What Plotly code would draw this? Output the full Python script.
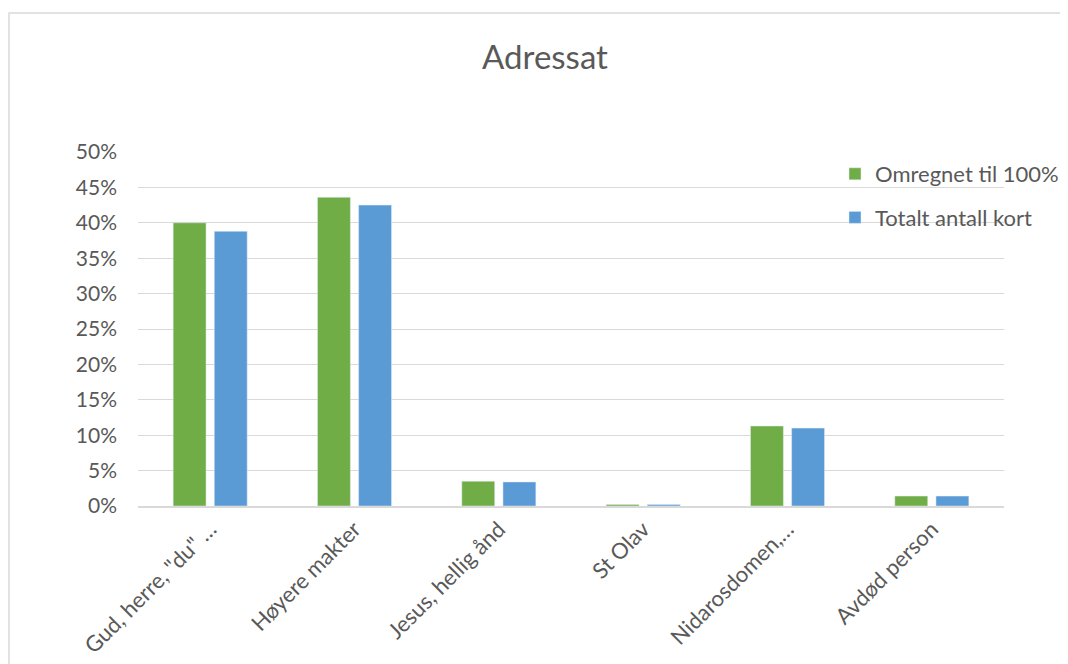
import plotly.graph_objects as go

categories = ['Gud, herre, "du" …', "Høyere makter", "Jesus, hellig ånd", "St Olav", "Nidarosdomen,…", "Avdød person"]
omregnet = [0.400, 0.436, 0.035, 0.002, 0.113, 0.014]
totalt = [0.388, 0.425, 0.034, 0.002, 0.110, 0.014]
series_names = ["Omregnet til 100%", "Totalt antall kort"]
tick_vals = [0, 0.05, 0.10, 0.15, 0.20, 0.25, 0.30, 0.35, 0.40, 0.45, 0.50]
tick_text = ["0%", "5%", "10%", "15%", "20%", "25%", "30%", "35%", "40%", "45%", "50%"]

# page body has an 8px margin, so the figure is drawn at (8, 8)
OFF = 8
W, H = 1068 - OFF, 664 - OFF
L, R, T = 138 - OFF, 64, 152 - OFF
B = H - (506 - OFF)
FONT = "Lato, Calibri, Carlito, sans-serif"
GREY = "#595959"

fig = go.Figure()
fig.add_trace(go.Bar(x=categories, y=omregnet, name=series_names[0], marker_color="#70AD47",
                     legendgroup="a"))
fig.add_trace(go.Bar(x=categories, y=totalt, name=series_names[1], marker_color="#5B9BD5",
                     legendgroup="b"))

pw = W - L - R
ph = H - T - B

def px_x(sx):
    return (sx - OFF - L) / pw

def px_y(sy):
    return (H - B - (sy - OFF)) / ph

fig.update_layout(
    width=W, height=H,
    margin=dict(l=L, r=R, t=T, b=B, autoexpand=False),
    paper_bgcolor="white", plot_bgcolor="white",
    barmode="group", bargap=0.43, bargroupgap=0.2,
    title=dict(text="Adressat", x=(545 - OFF) / W, xanchor="center",
               y=1 - (57 - OFF) / H, yanchor="middle",
               font=dict(family=FONT, size=33, color=GREY)),
    font=dict(family=FONT, size=20, color=GREY),
    legend=dict(x=px_x(835), y=px_y(153), xanchor="left", yanchor="top",
                font=dict(family=FONT, size=22, color=GREY),
                bgcolor="rgba(0,0,0,0)", itemwidth=30, tracegroupgap=12,
                traceorder="grouped"),
    xaxis=dict(tickangle=-45, showline=True, linecolor="#D9D9D9", linewidth=1.5,
               ticks="", tickfont=dict(family=FONT, size=22, color=GREY)),
    yaxis=dict(range=[0, 0.5], tickvals=tick_vals, ticktext=tick_text,
               showgrid=True, gridcolor="#D9D9D9", gridwidth=1.3, zeroline=False,
               ticks="", ticklabelstandoff=20,
               tickfont=dict(family=FONT, size=21, color=GREY)),
    shapes=[dict(type="path", xref="paper", yref="paper",
                 path=f"M {px_x(9)},{px_y(680)} L {px_x(9)},{px_y(13)} L {px_x(1080)},{px_y(13)}",
                 line=dict(color="#D9D9D9", width=1.5))],
)

fig.write_html("out.html")
